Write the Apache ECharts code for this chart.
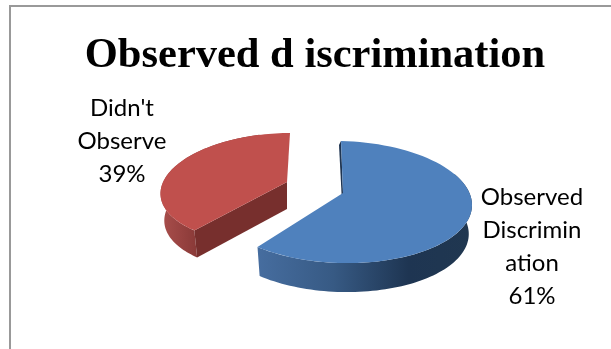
<!DOCTYPE html>
<html><head><meta charset="utf-8">
<style>html,body{margin:0;padding:0;background:#fff}#c{width:611px;height:349px}</style>
<script src="https://cdn.jsdelivr.net/npm/echarts@6/dist/echarts.min.js"></script>
</head><body><div id="c"></div>
<script>
const titleText = 'Observed d iscrimination';
const categories = ['Observed Discrimination', "Didn't Observe"];
const values = [61, 39];
const labelLines = [['Observed', 'Discrimin', 'ation'], ["Didn't", 'Observe']];

// projection of each exploded slice (faked 3D perspective)
const proj = [
  {cx:343, cy:193, rx:131, a:0, x0:-2, b:9, c:61, e:3, depth:29, sx:.975,
   top:'#4f81bd', cut:'#1f3552',
   wall:[[0,'#466d9f'],[.35,'#375a84'],[.7,'#1e3552'],[1,'#203750']], wx:[258,473],
   from:60, label:{x:532, y:197}},
  {cx:287, cy:182, rx:117, a:-11.9, x0:3, b:6, c:55, e:0, depth:27, sx:.97,
   top:'#c0504d', cut:'#772f2d',
   wall:[[0,'#a94f4c'],[.5,'#9a4442'],[1,'#8a3a38']], wx:[161,196],
   to:345, label:{x:122, y:108}}
];
const total = values.reduce((s, v) => s + v, 0);

function rim(p, deg, low) {
  const t = deg * Math.PI / 180, s = Math.sin(t), co = Math.cos(t);
  const dx = p.rx * s + p.x0 + p.a * (1 - co);
  const dy = p.b - p.c * co + p.e * s;
  return low ? [p.cx + dx * p.sx, p.cy + dy + p.depth] : [p.cx + dx, p.cy + dy];
}
function arc(p, a0, a1, low) {
  const pts = [], n = 80;
  for (let i = 0; i <= n; i++) pts.push(rim(p, a0 + (a1 - a0) * i / n, low));
  return pts;
}
function poly(points, fill) {
  return {type:'polygon', silent:true, shape:{points}, style:{fill}};
}
function renderItem(params, api) {
  const i = params.dataIndex, p = proj[i], v = api.value(0);
  let start = 0;
  for (let k = 0; k < i; k++) start += values[k];
  const a0 = start / total * 360, a1 = (start + v) / total * 360;
  const apex = [p.cx, p.cy], apexLow = [p.cx, p.cy + p.depth];
  const kids = [];
  const grad = {type:'linear', x:p.wx[0], y:0, x2:p.wx[1], y2:0, global:true,
    colorStops:p.wall.map(s => ({offset:s[0], color:s[1]}))};
  // outer wall
  const w0 = i === 0 ? p.from : a0, w1 = i === 0 ? a1 : p.to;
  kids.push(poly(arc(p, w0, w1, false).concat(arc(p, w0, w1, true).reverse()), grad));
  // cut faces
  const A = rim(p, a0, false), Al = rim(p, a0, true);
  if (i === 0) {
    kids.push(poly([A, apex, apexLow, [A[0] - 2, A[1] + 4]], p.cut));
  } else {
    kids.push(poly([apex, A, Al, apexLow], p.cut));
  }
  // top surface
  kids.push(poly([apex].concat(arc(p, a0, a1, false)), p.top));
  // label
  const lines = labelLines[i].concat([Math.round(v / total * 100) + '%']);
  lines.forEach((t, j) => kids.push({type:'text', silent:true, style:{
    x:p.label.x, y:p.label.y + j * 33.2, text:t, fill:'#000', align:'center', verticalAlign:'middle',
    font:'24px Lato'}}));
  return {type:'group', children:kids};
}
const chart = echarts.init(document.getElementById('c'), null, {renderer:'canvas'});
chart.setOption({
  animation:false,
  backgroundColor:'#fff',
  title:{text:titleText, left:310, top:30, textAlign:'center',
    textStyle:{fontFamily:'Liberation Serif', fontWeight:'bold', fontSize:42.5, color:'#000'}},
  graphic:[
    {type:'rect', silent:true, shape:{x:9, y:5, width:602, height:2}, style:{fill:'#999'}},
    {type:'rect', silent:true, shape:{x:9, y:5, width:2, height:344}, style:{fill:'#999'}}
  ],
  series:[{type:'custom', coordinateSystem:'none', renderItem,
    data:values.map((v, i) => ({name:categories[i], value:[v]})), silent:true}]
});
</script></body></html>
